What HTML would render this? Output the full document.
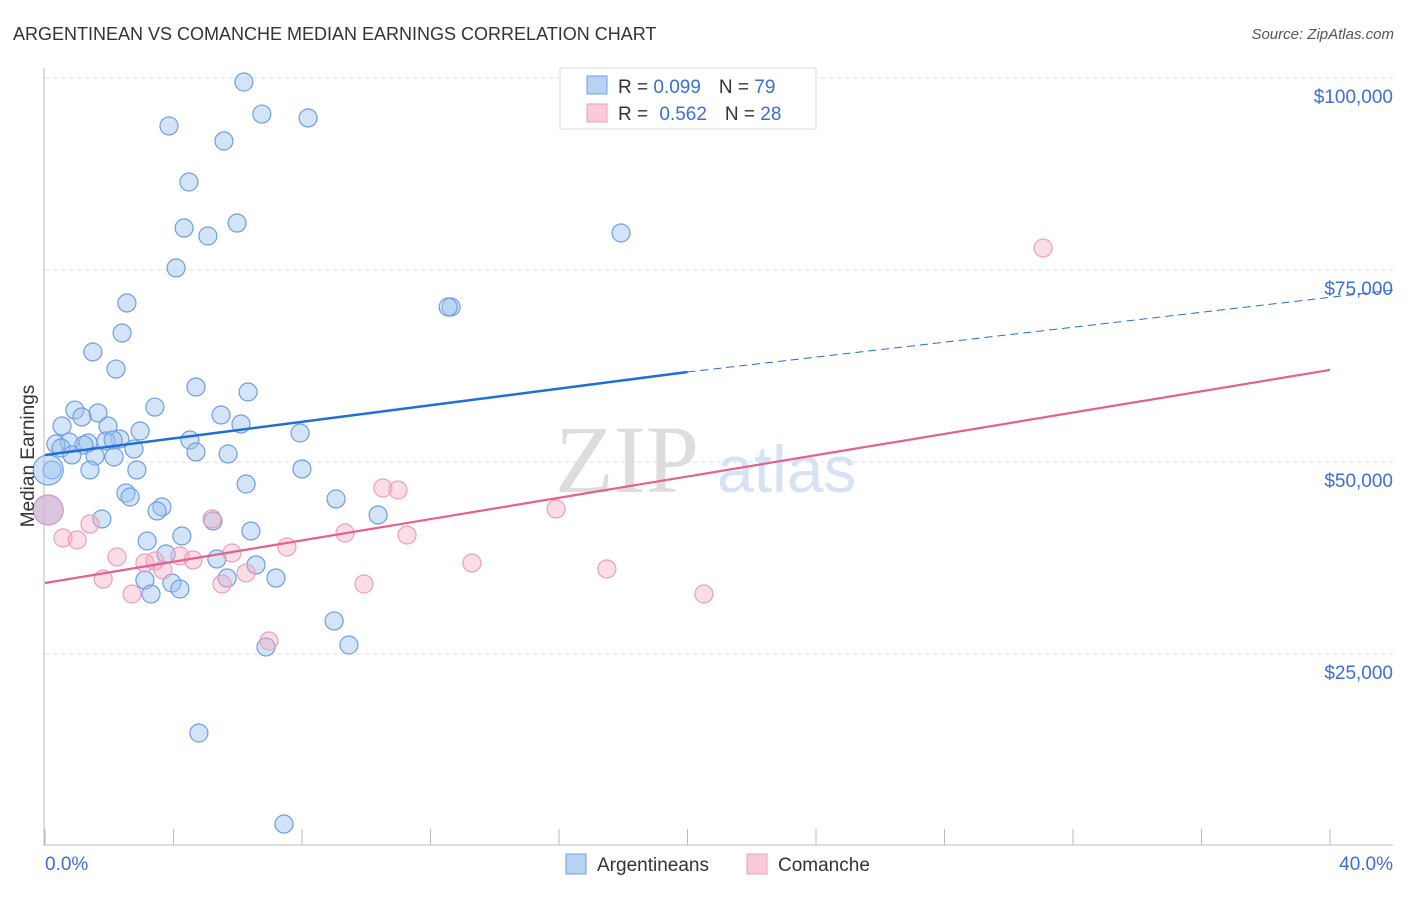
<!DOCTYPE html>
<html><head><meta charset="utf-8"><style>
body{margin:0;background:#fff;font-family:"Liberation Sans",sans-serif}
svg text{font-family:"Liberation Sans",sans-serif}
</style></head><body>
<svg id="chart" width="1406" height="892">
<text x="13" y="40" font-size="18" fill="#333">ARGENTINEAN VS COMANCHE MEDIAN EARNINGS CORRELATION CHART</text>
<text x="1394" y="39" font-size="15" fill="#555" font-style="italic" text-anchor="end">Source: ZipAtlas.com</text>
<text x="555" y="492" font-size="96" fill="#ddd" font-family="Liberation Serif" style="font-family:'Liberation Serif',serif">ZIP</text>
<text x="717" y="492" font-size="66" fill="#d6e3f4">atlas</text>
<g id="grid"></g><g id="axes"></g><g id="pts"></g><g id="lines"></g>
<text transform="translate(34,456) rotate(-90)" font-size="19" fill="#333" text-anchor="middle">Median Earnings</text>
<text x="45" y="870" font-size="19" fill="#3b6fd4">0.0%</text>
<text x="1393" y="870" font-size="19" fill="#3b6fd4" text-anchor="end">40.0%</text>
<g>
<rect x="560" y="68" width="256" height="61" fill="#fff" stroke="#ddd"/>
<rect x="587" y="76" width="20" height="18" fill="#b8d2f4" stroke="#6d9fe0"/>
<rect x="587" y="104" width="20" height="18" fill="#f9cbd8" stroke="#eaa0b8"/>
<text x="618" y="93" font-size="19" fill="#333">R = <tspan fill="#3b6fd4">0.099</tspan><tspan dx="18">N = </tspan><tspan fill="#3b6fd4">79</tspan></text>
<text x="618" y="120" font-size="19" fill="#333">R = <tspan dx="6" fill="#3b6fd4">0.562</tspan><tspan dx="18">N = </tspan><tspan fill="#3b6fd4">28</tspan></text>
</g>
<g>
<rect x="566" y="854" width="20" height="20" fill="#b8d2f4" stroke="#6d9fe0"/>
<text x="597" y="871" font-size="19" fill="#333">Argentineans</text>
<rect x="747" y="854" width="20" height="20" fill="#f9cbd8" stroke="#eaa0b8"/>
<text x="778" y="871" font-size="19" fill="#333">Comanche</text>
</g>
</svg>
<script>
const yTicks=[25000,50000,75000,100000];
const yTickLabels=["$25,000","$50,000","$75,000","$100,000"];
const xTicks=[0,4,8,12,16,20,24,28,32,36,40];
const blueX=[6.19,6.75,8.19,3.86,5.57,4.48,5.98,4.33,5.07,17.93,4.08,12.64,12.55,2.55,2.40,1.49,2.21,4.70,6.32,3.42,0.93,1.65,1.15,5.48,1.96,0.53,6.10,2.96,7.94,4.51,2.33,0.75,1.34,0.34,1.90,2.12,1.21,0.50,2.77,4.70,0.84,1.56,2.15,5.70,0.22,1.40,2.86,8.00,6.26,2.52,2.65,9.06,3.64,3.49,10.37,1.77,5.23,6.41,4.26,3.18,3.77,5.35,6.57,7.19,3.11,5.67,3.95,4.20,3.30,9.00,6.88,9.46,4.79,7.44];
const blueY=[99470,95300,94790,93750,91790,86450,81110,80460,79420,79810,75260,70180,70180,70700,66790,64320,62100,59760,59110,57150,56760,56380,55860,56120,54680,54680,54940,54030,53770,52860,52990,52600,52470,52340,52730,52860,52210,51820,51690,51300,50910,50780,50650,51040,48960,48960,48960,49090,47130,45960,45440,45180,44140,43620,43100,42580,42320,41010,40360,39710,38020,37370,36590,34890,34630,34890,34240,33460,32810,29300,25910,26170,14710,2860];
const blueBigX=[0.1,0.1];
const blueBigY=[48960,43750];
const pinkX=[31.07,10.52,10.99,15.91,5.20,1.40,0.56,1.00,11.27,9.34,7.53,5.82,2.24,4.20,3.11,3.42,4.61,13.29,17.49,3.67,6.26,1.81,5.51,9.93,2.71,20.51,6.97];
const pinkY=[77860,46610,46350,43880,42580,41920,40100,39840,40490,40750,38930,38150,37630,37760,36850,37110,37240,36850,36070,35940,35550,34760,34110,34110,32810,32810,26690];
const pinkBigX=[0.1];
const pinkBigY=[43750];
const blueLine=[50910,61710,72390];
const blueLineX=[0,20,41.96];
const pinkLine=[34240,61980];
const pinkLineX=[0,40];
const NS="http://www.w3.org/2000/svg";
const sx=v=>45+v*32.125;
const sy=v=>846-v/130.2;
function mk(tag,attrs,parent){const e=document.createElementNS(NS,tag);for(const k in attrs)e.setAttribute(k,attrs[k]);document.getElementById(parent).appendChild(e);return e;}
yTicks.forEach((t,i)=>{
 const l=mk('line',{x1:45,x2:1393,y1:sy(t),y2:sy(t),stroke:'#ddd','stroke-dasharray':'4 4'},'grid');
 
 
 const tx=mk('text',{x:1393,y:sy(t)+25,'font-size':19,fill:'#3b6fd4','text-anchor':'end'},'grid');
 tx.textContent=yTickLabels[i];
 
 
});
const ya=mk('line',{x1:44,x2:44,y1:68,y2:845,stroke:'#bbb'},'axes');


const xa=mk('line',{x1:44,x2:1393,y1:845,y2:845,stroke:'#bbb'},'axes');


xTicks.forEach(t=>{
 const l=mk('line',{x1:sx(t),x2:sx(t),y1:829,y2:845,stroke:'#bbb'},'axes');
 
 
});
function dots(xs,ys,r,fill,stroke,name){
 xs.forEach((x,i)=>{
  const c=mk('circle',{cx:sx(x),cy:sy(ys[i]),r:r,fill:fill,stroke:stroke,'stroke-width':1.2},'pts');
  
  
 });
}
dots(blueX,blueY,9,'rgba(160,196,240,0.45)','#6d9fe0','argentinean-point');
dots(blueBigX,blueBigY,15,'rgba(160,196,240,0.5)','#6d9fe0','argentinean-point');
dots(pinkX,pinkY,9,'rgba(245,170,195,0.4)','#eaa0b8','comanche-point');
dots(pinkBigX,pinkBigY,15,'rgba(230,170,200,0.5)','#d8a0c0','comanche-point');
const bl=mk('line',{x1:sx(blueLineX[0]),y1:sy(blueLine[0]),x2:sx(blueLineX[1]),y2:sy(blueLine[1]),stroke:'#1f6fd8','stroke-width':2.5},'lines');


const bd=mk('line',{x1:sx(blueLineX[1]),y1:sy(blueLine[1]),x2:sx(blueLineX[2]),y2:sy(blueLine[2]),stroke:'#1f6fd8','stroke-width':1,'stroke-dasharray':'8 5'},'lines');


const pl=mk('line',{x1:sx(pinkLineX[0]),y1:sy(pinkLine[0]),x2:sx(pinkLineX[1]),y2:sy(pinkLine[1]),stroke:'#e4608e','stroke-width':2.2},'lines');


</script>
</body></html>
